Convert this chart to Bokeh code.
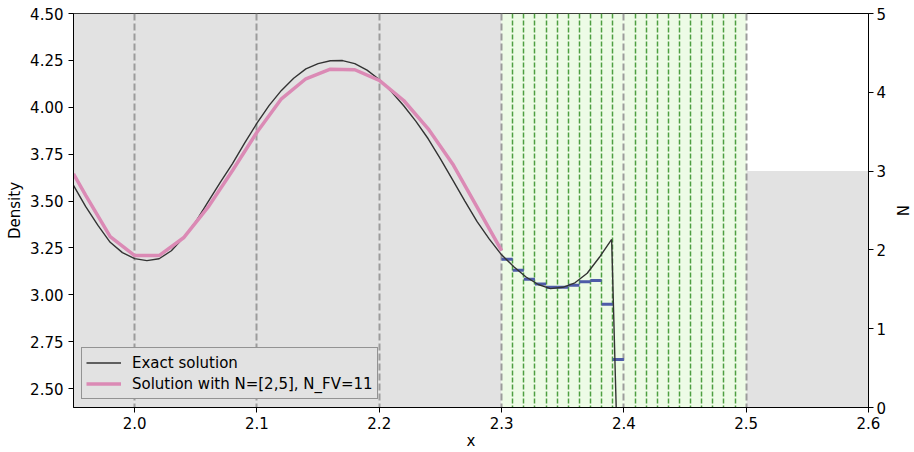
from bokeh.plotting import figure
from bokeh.models import (Range1d, LinearAxis, FixedTicker, Legend, LegendItem,
                          NumeralTickFormatter)
from bokeh.embed import file_html
from bokeh.resources import INLINE

# ---------------- data ----------------
exact_x = [1.95, 1.96, 1.97, 1.98, 1.99, 2.00, 2.01, 2.02, 2.03, 2.04, 2.05,
           2.06, 2.07, 2.08, 2.09, 2.10, 2.11, 2.12, 2.13, 2.14, 2.15, 2.16,
           2.17, 2.18, 2.19, 2.20, 2.21, 2.22, 2.23, 2.24, 2.25, 2.26, 2.27,
           2.28, 2.29, 2.30, 2.31, 2.32, 2.33, 2.34, 2.35, 2.36, 2.37, 2.38,
           2.39, 2.3995]
exact_rho = [3.583, 3.47, 3.37, 3.28, 3.225, 3.193, 3.182, 3.192, 3.235, 3.305,
             3.39, 3.495, 3.60, 3.70, 3.81, 3.915, 4.01, 4.09, 4.155, 4.205,
             4.233, 4.248, 4.249, 4.233, 4.198, 4.148, 4.083, 4.008, 3.925,
             3.832, 3.725, 3.613, 3.50, 3.39, 3.297, 3.213, 3.15, 3.095, 3.055,
             3.033, 3.04, 3.064, 3.115, 3.20, 3.295, 1.0]

sol_x = [1.95, 1.96, 1.98, 2.00, 2.02, 2.04, 2.06, 2.08, 2.10, 2.12, 2.14,
         2.16, 2.18, 2.20, 2.22, 2.24, 2.26, 2.28, 2.30]
sol_rho = [3.645, 3.53, 3.31, 3.209, 3.209, 3.304, 3.467, 3.663, 3.867,
           4.045, 4.152, 4.203, 4.200, 4.143, 4.036, 3.885, 3.698, 3.467, 3.236]

elem_left = [1.9, 2.0, 2.1, 2.2, 2.3, 2.4, 2.5]
elem_right = [2.0, 2.1, 2.2, 2.3, 2.4, 2.5, 2.6]
elem_N = [5, 5, 5, 5, 0, 0, 3]
elem_is_fv = [False, False, False, False, True, True, False]
N_FV = 11

fv_rho = [3.190, 3.131, 3.083, 3.058, 3.040, 3.040, 3.051, 3.069, 3.076,
          2.950, 2.655]

x_ticks = [2.0, 2.1, 2.2, 2.3, 2.4, 2.5, 2.6]
y_ticks = [2.50, 2.75, 3.00, 3.25, 3.50, 3.75, 4.00, 4.25, 4.50]
n_ticks = [0, 1, 2, 3, 4, 5]

# ---------------- derived geometry ----------------
dg_left = [l for l, f in zip(elem_left, elem_is_fv) if not f]
dg_right = [r for r, f in zip(elem_right, elem_is_fv) if not f]
dg_N = [n for n, f in zip(elem_N, elem_is_fv) if not f]
fv_left = [l for l, f in zip(elem_left, elem_is_fv) if f]
fv_right = [r for r, f in zip(elem_right, elem_is_fv) if f]

sub_edges = []
for l, r in zip(fv_left, fv_right):
    h = (r - l) / N_FV
    for k in range(1, N_FV):
        sub_edges.append(l + k * h)

first_fv_l, first_fv_r = fv_left[0], fv_right[0]
hfv = (first_fv_r - first_fv_l) / N_FV
cell_l = [first_fv_l + k * hfv for k in range(N_FV)]
cell_r = [first_fv_l + (k + 1) * hfv for k in range(N_FV)]

elem_bounds = elem_right[:-1]

FONT = "DejaVu Sans"
FS = "15px"

p = figure(width=914, height=452, output_backend="svg", toolbar_location=None,
           x_range=Range1d(1.95, 2.6), y_range=Range1d(2.399, 4.5),
           min_border_left=73, min_border_right=46, min_border_top=13,
           min_border_bottom=45)
p.extra_y_ranges = {"N": Range1d(0, 5)}
p.grid.visible = False
p.background_fill_color = "white"
p.outline_line_color = "black"
p.outline_line_width = 1

# element N bars
p.quad(left=dg_left, right=dg_right, bottom=0, top=dg_N, y_range_name="N",
       fill_color="#e2e2e2", line_color=None)
# FV elements
p.vstrip(x0=fv_left, x1=fv_right, fill_color="#edfbe6", line_color=None)
p.vspan(x=sub_edges, line_color="#4e9f41", line_width=1.5, line_dash="5 2")
p.vspan(x=elem_bounds, line_color="#9c9c9c", line_width=2, line_dash="7 3")

p.segment(x0=cell_l, x1=cell_r, y0=fv_rho, y1=fv_rho, line_color="#4e5ba8",
          line_width=3)
r_exact = p.line(exact_x, exact_rho, line_color="#333333", line_width=1.4)
r_sol = p.line(sol_x, sol_rho, line_color="#db8ab5", line_width=3.5)

# axes
for ax in (p.xaxis[0], p.yaxis[0]):
    ax.major_tick_out = 5
    ax.major_tick_in = 0
    ax.minor_tick_line_color = None
    ax.major_label_text_font = FONT
    ax.major_label_text_font_size = FS
    ax.major_label_text_color = "black"
    ax.axis_label_text_font = FONT
    ax.axis_label_text_font_size = FS
    ax.axis_label_text_font_style = "normal"
    ax.axis_label_text_color = "black"
    ax.axis_line_color = "black"

p.xaxis[0].ticker = FixedTicker(ticks=x_ticks)
p.xaxis[0].formatter = NumeralTickFormatter(format="0.0")
p.xaxis[0].axis_label = "x"
p.xaxis[0].major_label_standoff = 4
p.xaxis[0].axis_label_standoff = 0

p.yaxis[0].ticker = FixedTicker(ticks=y_ticks)
p.yaxis[0].formatter = NumeralTickFormatter(format="0.00")
p.yaxis[0].axis_label = "Density"
p.yaxis[0].major_label_standoff = 5
p.yaxis[0].axis_label_standoff = 3

ax2 = LinearAxis(y_range_name="N", axis_label="N",
                 ticker=FixedTicker(ticks=n_ticks),
                 formatter=NumeralTickFormatter(format="0"))
ax2.major_tick_out = 5
ax2.major_tick_in = 0
ax2.minor_tick_line_color = None
ax2.major_label_text_font = FONT
ax2.major_label_text_font_size = FS
ax2.major_label_text_color = "black"
ax2.axis_label_text_font = FONT
ax2.axis_label_text_font_size = FS
ax2.axis_label_text_font_style = "normal"
ax2.axis_label_text_color = "black"
ax2.axis_line_color = "black"
ax2.major_label_standoff = 3
ax2.axis_label_standoff = 4
p.add_layout(ax2, "right")

legend = Legend(items=[LegendItem(label="Exact solution", renderers=[r_exact]),
                       LegendItem(label="Solution with N=[2,5], N_FV=11",
                                  renderers=[r_sol])],
                location="bottom_left")
legend.margin = 8
legend.padding = 4
legend.spacing = 0
legend.glyph_width = 35
legend.glyph_height = 21
legend.label_height = 21
legend.label_standoff = 11
legend.label_text_font = FONT
legend.label_text_font_size = FS
legend.label_text_color = "black"
legend.border_line_color = "#444444"
legend.border_line_width = 1
legend.background_fill_color = "#e2e2e2"
legend.background_fill_alpha = 1.0
p.add_layout(legend)

open("out.html", "w").write(file_html(p, INLINE))
